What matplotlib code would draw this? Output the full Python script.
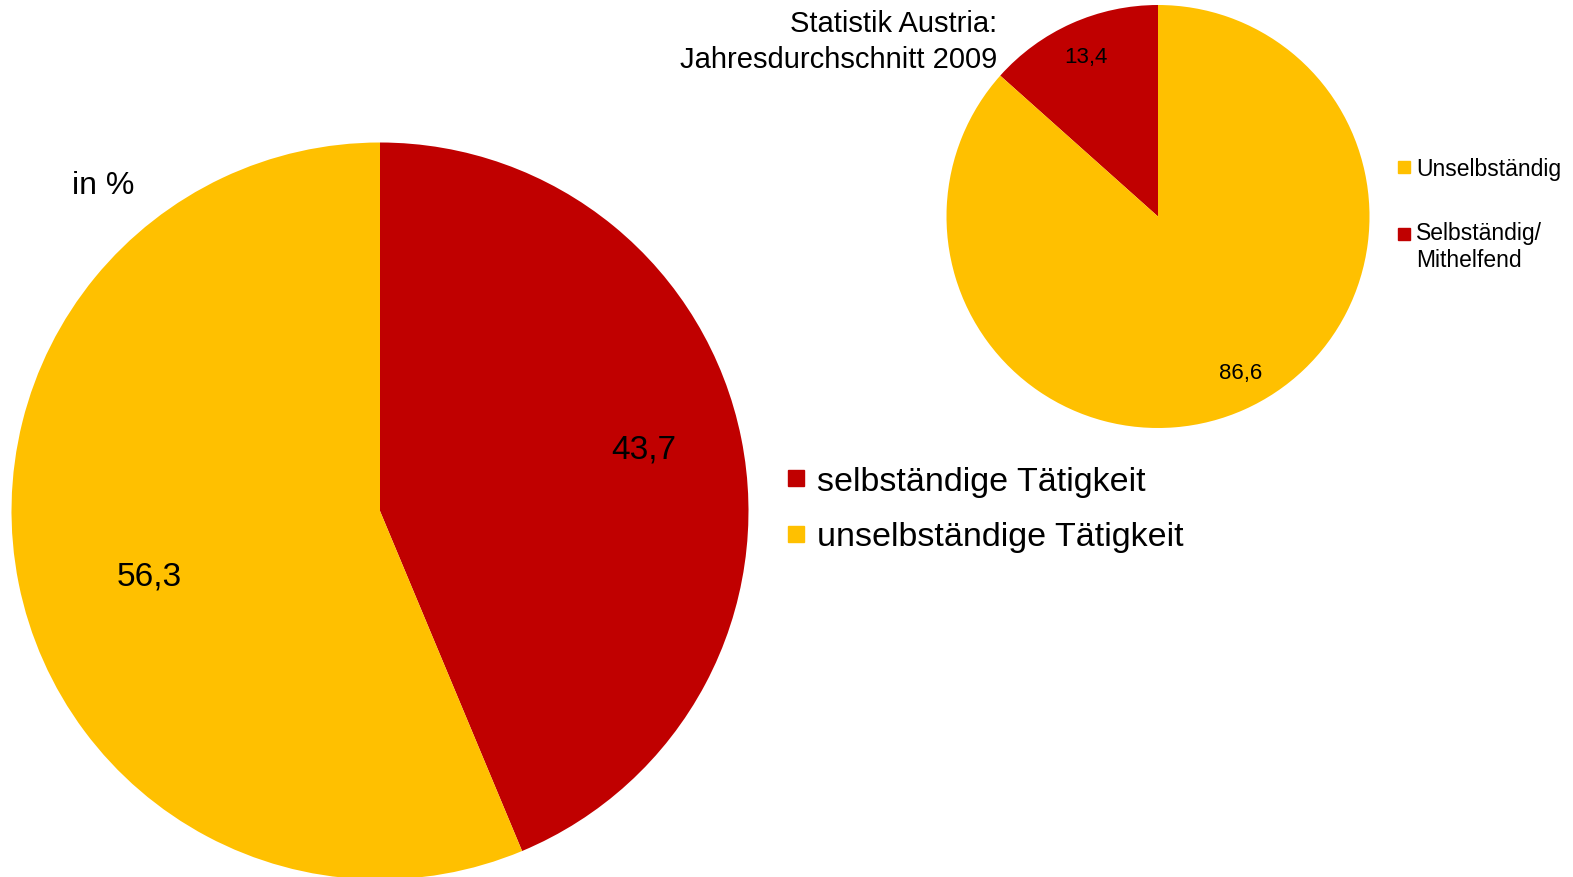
import numpy as np
import matplotlib
matplotlib.use("Agg")
import matplotlib.pyplot as plt
from matplotlib.lines import Line2D
from matplotlib.legend_handler import HandlerLine2D

plt.rcParams['font.family'] = ['Liberation Sans', 'DejaVu Sans']

# data
big_labels = ['selbständige Tätigkeit', 'unselbständige Tätigkeit']
big_values = [43.7, 56.3]
small_labels = ['Unselbständig', 'Selbständig/\nMithelfend']
small_values = [86.6, 13.4]

RED = '#C00000'
YELLOW = '#FFC000'

W, H = 1573, 878
fig = plt.figure(figsize=(W / 100, H / 100), dpi=100)


def square_axes(cx, cy, r):
    # pixel centre/radius -> figure fractions
    return fig.add_axes([(cx - r) / W, (H - cy - r) / H, 2 * r / W, 2 * r / H])


def fmt(v):
    return f"{v:.1f}".replace('.', ',')


class TopLineHandler(HandlerLine2D):
    # put the marker next to the first line of a two-line label
    def create_artists(self, *args, **kwargs):
        arts = super().create_artists(*args, **kwargs)
        for a in arts:
            a.set_ydata(np.asarray(a.get_ydata()) + 9.5)
        return arts


# big pie: red first, clockwise from the top
ax1 = square_axes(380, 512, 368.5)
wedges1, _ = ax1.pie(big_values, colors=[RED, YELLOW], startangle=90,
                     counterclock=False, radius=1,
                     wedgeprops=dict(linewidth=0))
ax1.set_xlim(-1, 1)
ax1.set_ylim(-1, 1)
ax1.axis('off')
# label distance and small vertical nudge per wedge
for w, v, d, dy in zip(wedges1, big_values, [0.73, 0.64], [0.025, -0.05]):
    ang = np.deg2rad((w.theta1 + w.theta2) / 2)
    ax1.text(d * np.cos(ang), d * np.sin(ang) + dy, fmt(v), ha='center',
             va='center', fontsize=24)
fig.text(72 / W, 1 - 186 / H, 'in %', fontsize=23, va='center', ha='left')

fig.legend([Line2D([], [], marker='s', ls='', color=c, markersize=11)
            for c in [RED, YELLOW]], big_labels,
           loc='upper left', bbox_to_anchor=(786 / W, 1 - 467 / H),
           frameon=False, fontsize=24.5, handlelength=0.6, handletextpad=0.3,
           labelspacing=0.72, borderpad=0, borderaxespad=0)

# small pie: red counter-clockwise from top
ax2 = square_axes(1158, 217.5, 211.5)
wedges2, _ = ax2.pie(small_values[::-1], colors=[RED, YELLOW], startangle=90,
                     counterclock=True, radius=1,
                     wedgeprops=dict(linewidth=0))
ax2.set_xlim(-1, 1)
ax2.set_ylim(-1, 1)
ax2.axis('off')
for w, v, dx, dy in zip(wedges2, small_values[::-1], [0, 0.05], [0, 0.02]):
    ang = np.deg2rad((w.theta1 + w.theta2) / 2)
    ax2.text(0.83 * np.cos(ang) + dx, 0.83 * np.sin(ang) + dy, fmt(v),
             ha='center', va='center', fontsize=16)

fig.text(997 / W, 1 - 42 / H, 'Statistik Austria:\nJahresdurchschnitt 2009',
         ha='right', va='center', fontsize=21, linespacing=1.32)

small_handles = [Line2D([], [], marker='s', ls='', color=c, markersize=8)
                 for c in [YELLOW, RED]]
fig.legend(small_handles, small_labels,
           handler_map={small_handles[1]: TopLineHandler()},
           loc='upper left', bbox_to_anchor=(1399 / W, 1 - 158 / H),
           frameon=False, fontsize=16.5, handlelength=0.45, handletextpad=0.3,
           labelspacing=1.8, borderpad=0, borderaxespad=0)

fig.savefig('out.png', dpi=100)
